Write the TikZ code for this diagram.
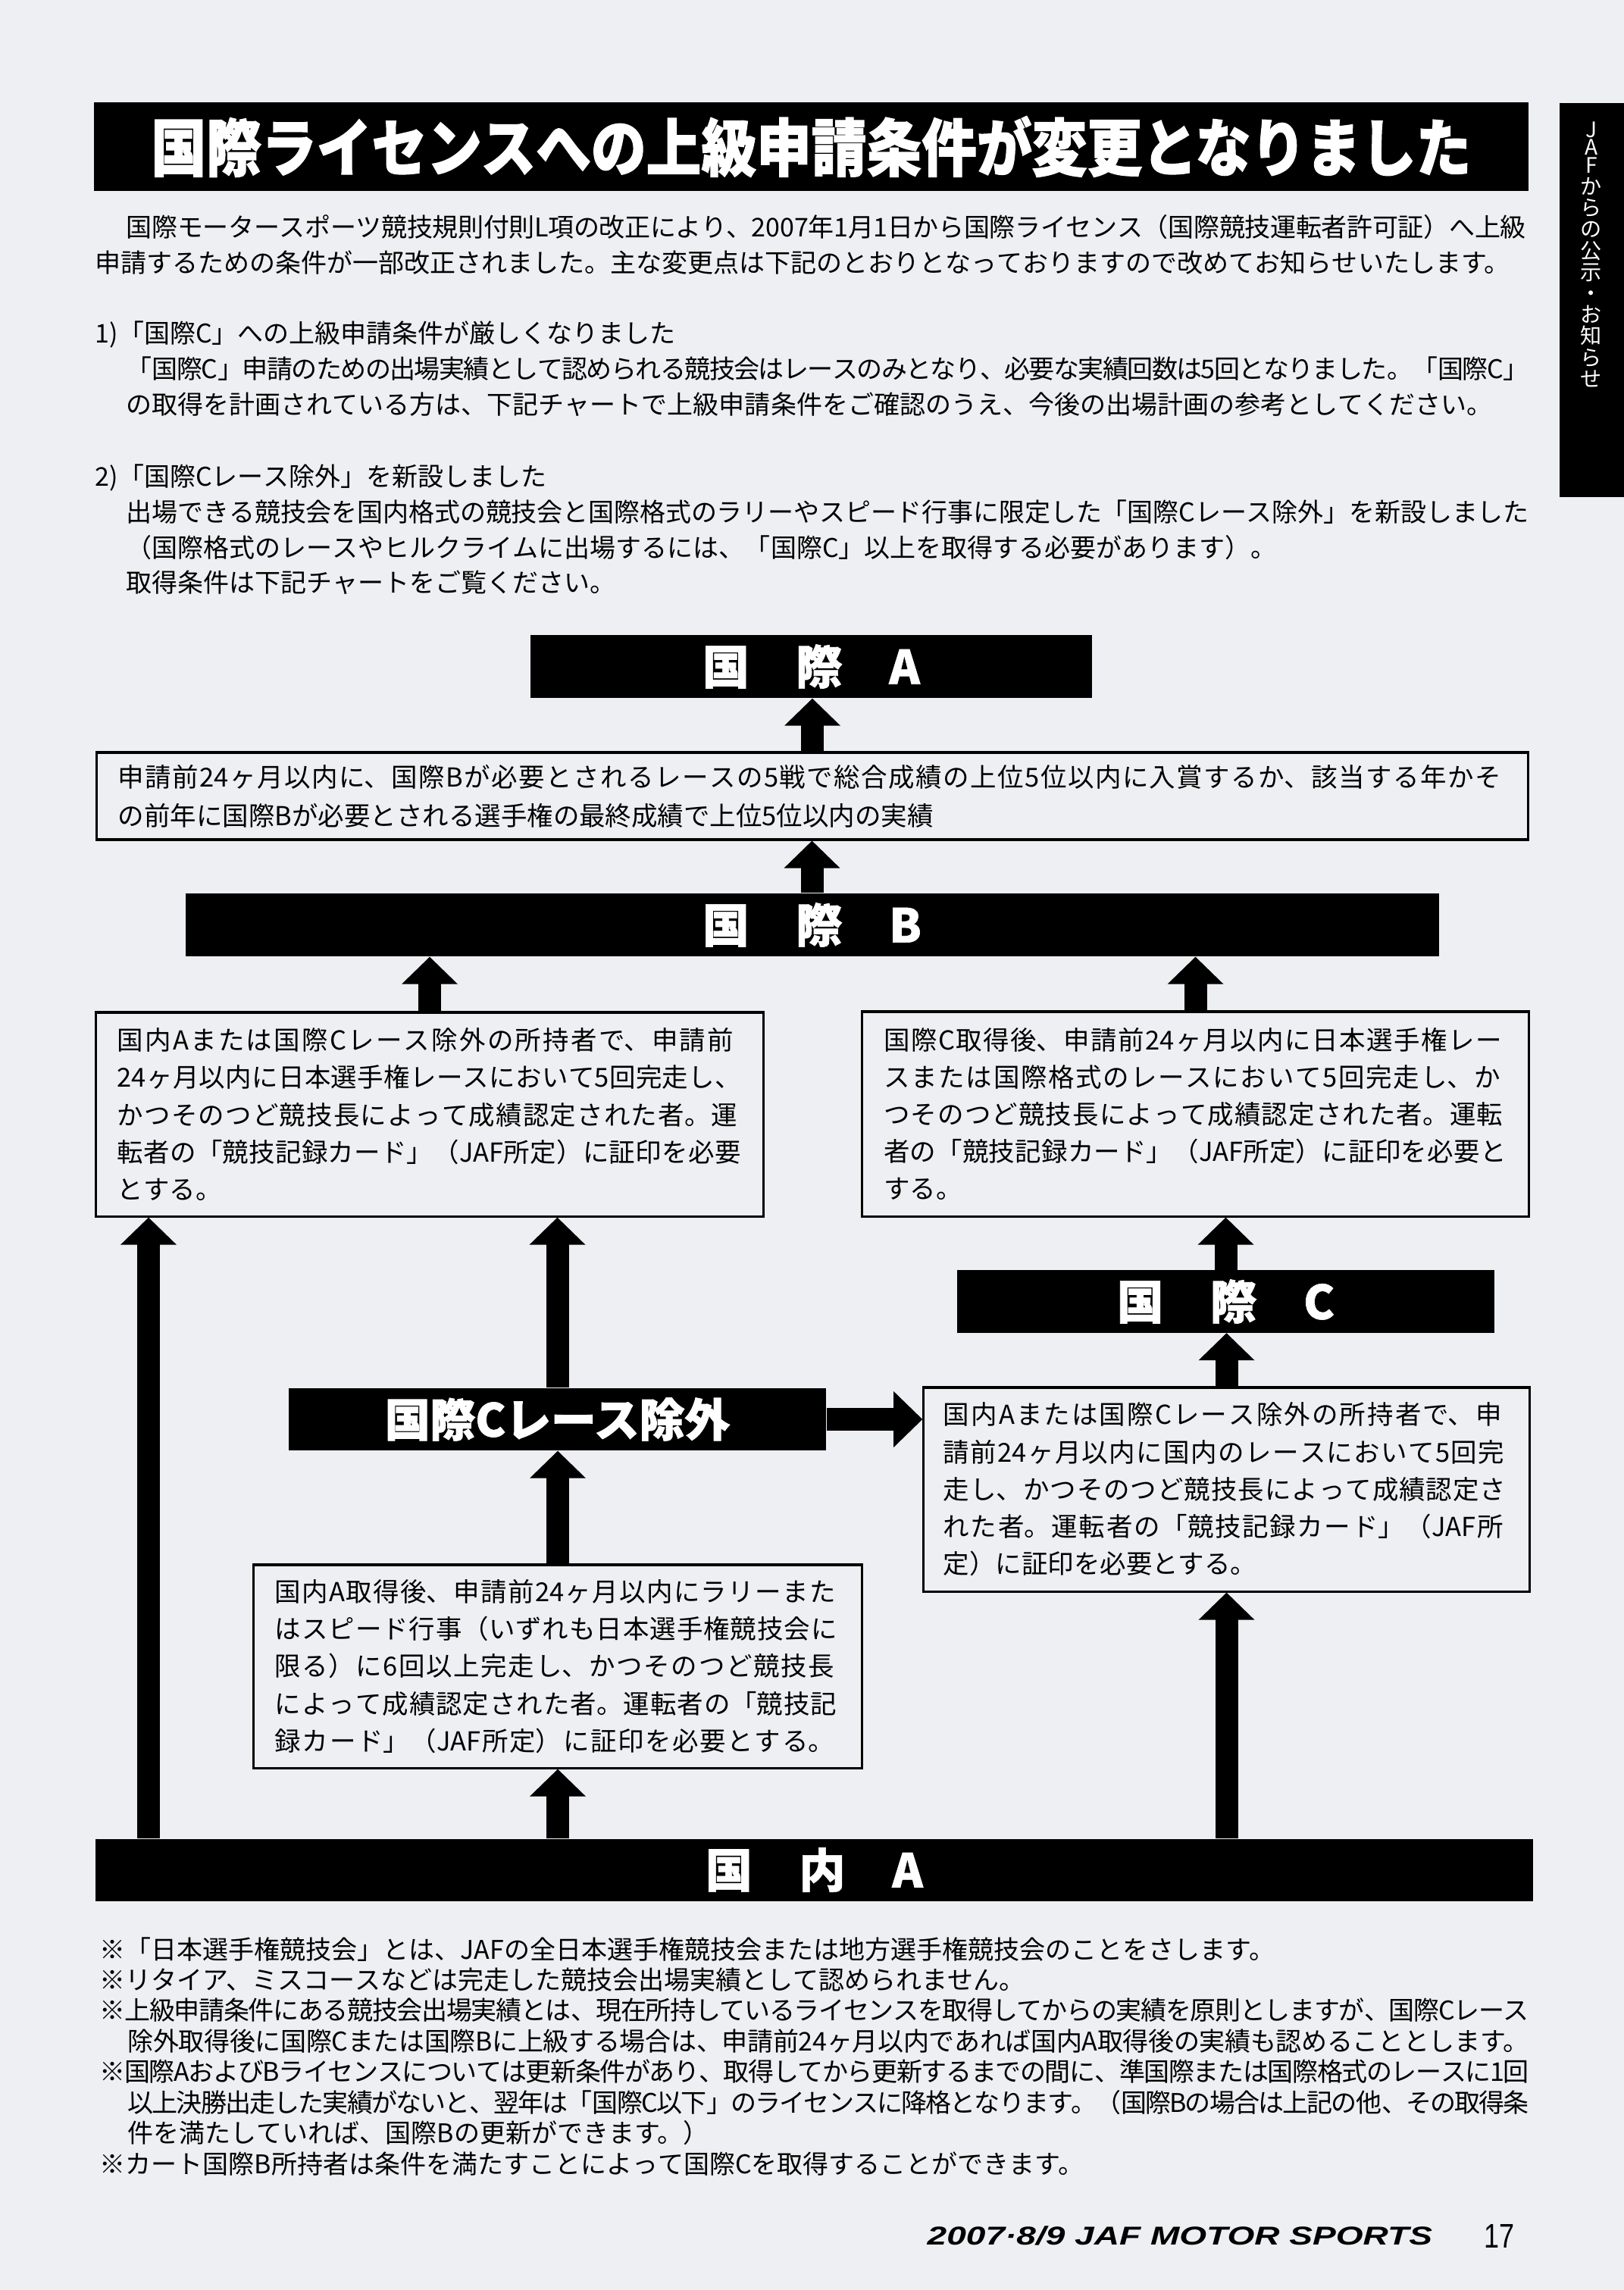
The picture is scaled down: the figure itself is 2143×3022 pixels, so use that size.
\documentclass[tikz,border=0pt]{standalone}
\usepackage{fontspec}
\setmainfont{Noto Sans CJK JP}
\newfontfamily\jp{Noto Sans CJK JP}
\newfontfamily\lib{Liberation Sans}
\usetikzlibrary{calc}
\XeTeXlinebreaklocale "ja"
\XeTeXlinebreakskip=0pt plus 4pt minus 1.2pt
\XeTeXlinebreakpenalty=10000
\definecolor{paper}{RGB}{238,239,242}
\newcommand\jl[1]{{\parfillskip=0pt\relax\leavevmode#1\par}}
\newcommand\jn[1]{{\parfillskip=0pt plus 1fil\relax\leavevmode#1\par}}
\newcommand\uarr[2]{\draw[shaft] #1 -- ($#2+(0,30)$);
  \fill ($#2+(-37,36)$) -- #2 -- ($#2+(37,36)$) -- cycle;}
\newcommand\rarr[2]{\draw[shaft] #1 -- ($#2+(-30,0)$);
  \fill ($#2+(-38,-37)$) -- #2 -- ($#2+(-38,37)$) -- cycle;}
\begin{document}
\begin{tikzpicture}[x=0.01cm, y=-0.01cm,
  bar/.style={fill=black, text=white, inner sep=0pt, font={\jp\bfseries\addfontfeature{FakeBold=1}\fontsize{17.5pt}{20pt}\selectfont}},
  cbox/.style={draw=black, line width=0.9pt, inner sep=0pt, font={\jp\fontsize{9.8pt}{14pt}\selectfont\parindent=0pt}},
  para/.style={anchor=base west, inner sep=0pt, font={\jp\fontsize{9.67pt}{13.23pt}\selectfont\parindent=0pt}},
  shaft/.style={line width=0.3cm}]
\useasboundingbox (0,0) rectangle (2143,3022);
\fill[paper] (0,0) rectangle (2143,3022);

% title
\node[fill=black, text=white, minimum width=18.91cm, minimum height=1.17cm, inner sep=0pt,
  font={\jp\bfseries\addfontfeature{FakeBold=1.5}\fontsize{23.5pt}{25pt}\selectfont}] (title) at (1070.5,193.5)
  {\scalebox{0.88}[1]{国際ライセンスへの上級申請条件が変更となりました}};

% side tab
\node[fill=black, minimum width=0.86cm, minimum height=5.2cm, inner sep=0pt, anchor=north west] (tab) at (2057,135) {};
\node[text=white, align=center, inner sep=0pt, anchor=north,
  font={\jp\fontsize{8pt}{8.02pt}\selectfont}] (tabtext) at (2100,160)
  {J\\[-1.35pt]A\\[-1.35pt]F\\か\\ら\\の\\公\\示\\・\\お\\知\\ら\\せ};

% intro
\node[para, text width=18.87cm] (intro) at (125,313) {%
\jl{\hspace*{11.7pt}国際モータースポーツ競技規則付則L項の改正により、2007年1月1日から国際ライセンス（国際競技運転者許可証）へ上級}
\jn{申請するための条件が一部改正されました。主な変更点は下記のとおりとなっておりますので改めてお知らせいたします。}};

\node[para, text width=18.91cm] (sec1) at (125,453) {%
\jn{1)「国際C」への上級申請条件が厳しくなりました}
\jl{\hspace*{11.7pt}「国際C」申請のための出場実績として認められる競技会はレースのみとなり、必要な実績回数は5回となりました。「国際C」}
\jn{\hspace*{11.7pt}の取得を計画されている方は、下記チャートで上級申請条件をご確認のうえ、今後の出場計画の参考としてください。}};

\node[para, text width=18.91cm] (sec2) at (125,642) {%
\jn{2)「国際Cレース除外」を新設しました}
\jl{\hspace*{11.7pt}出場できる競技会を国内格式の競技会と国際格式のラリーやスピード行事に限定した「国際Cレース除外」を新設しました}
\jn{\hspace*{11.7pt}（国際格式のレースやヒルクライムに出場するには、「国際C」以上を取得する必要があります）。}
\jn{\hspace*{11.7pt}取得条件は下記チャートをご覧ください。}};

% bars
\node[bar, minimum width=7.41cm, minimum height=0.83cm] (barA) at (1070.5,879.5) {国\hspace{1em}際\hspace{1em}A};
\node[bar, minimum width=16.53cm, minimum height=0.83cm] (barB) at (1071.5,1220.5) {国\hspace{1em}際\hspace{1em}B};
\node[bar, minimum width=7.09cm, minimum height=0.82cm] (barC) at (1617.5,1717.5) {国\hspace{1em}際\hspace{1em}C};
\node[bar, minimum width=7.09cm, minimum height=0.82cm, font={\jp\bfseries\addfontfeature{FakeBold=1.5}\fontsize{17pt}{20pt}\selectfont}] (xbar) at (735.5,1873) {国際Cレース除外};
\node[bar, minimum width=18.95cm, minimum height=0.82cm] (kA) at (1074.5,2467.5) {国\hspace{1em}内\hspace{1em}A};

% condition boxes
\node[cbox, minimum width=18.88cm, minimum height=1.15cm, text width=18.31cm,
  font={\jp\fontsize{9.8pt}{14.5pt}\selectfont\parindent=0pt}] (box1) at (1072,1050.5) {%
\jl{申請前24ヶ月以内に、国際Bが必要とされるレースの5戦で総合成績の上位5位以内に入賞するか、該当する年かそ}
\jn{の前年に国際Bが必要とされる選手権の最終成績で上位5位以内の実績}};

\node[cbox, minimum width=8.80cm, minimum height=2.69cm, text width=8.24cm] (lbox) at (567,1470.5) {%
\jl{国内Aまたは国際Cレース除外の所持者で、申請前}
\jl{24ヶ月以内に日本選手権レースにおいて5回完走し、}
\jl{かつそのつど競技長によって成績認定された者。運}
\jl{転者の「競技記録カード」（JAF所定）に証印を必要}
\jn{とする。}};

\node[cbox, minimum width=8.79cm, minimum height=2.70cm, text width=8.22cm] (rbox) at (1577.5,1470) {%
\jl{国際C取得後、申請前24ヶ月以内に日本選手権レー}
\jl{スまたは国際格式のレースにおいて5回完走し、か}
\jl{つそのつど競技長によって成績認定された者。運転}
\jl{者の「競技記録カード」（JAF所定）に証印を必要と}
\jn{する。}};

\node[cbox, minimum width=7.99cm, minimum height=2.69cm, text width=7.47cm] (creq) at (1618.5,1965.5) {%
\jl{国内Aまたは国際Cレース除外の所持者で、申}
\jl{請前24ヶ月以内に国内のレースにおいて5回完}
\jl{走し、かつそのつど競技長によって成績認定さ}
\jl{れた者。運転者の「競技記録カード」（JAF所}
\jn{定）に証印を必要とする。}};

\node[cbox, minimum width=8.02cm, minimum height=2.68cm, text width=7.46cm] (xreq) at (736,2199) {%
\jl{国内A取得後、申請前24ヶ月以内にラリーまた}
\jl{はスピード行事（いずれも日本選手権競技会に}
\jl{限る）に6回以上完走し、かつそのつど競技長}
\jl{によって成績認定された者。運転者の「競技記}
\jl{録カード」（JAF所定）に証印を必要とする。}};

% connectors
\coordinate (lx) at (196,0);
\uarr{(box1.north)}{(box1.north |- barA.south)}
\uarr{(barB.north)}{(barB.north |- box1.south)}
\uarr{(lbox.north)}{(lbox.north |- barB.south)}
\uarr{(rbox.north)}{(rbox.north |- barB.south)}
\uarr{(barC.north)}{(barC.north |- rbox.south)}
\uarr{(creq.north)}{(creq.north |- barC.south)}
\uarr{(kA.north -| creq.south)}{(creq.south)}
\uarr{(xbar.north)}{(xbar.north |- lbox.south)}
\uarr{(xreq.north)}{(xreq.north |- xbar.south)}
\uarr{(kA.north -| xreq.south)}{(xreq.south)}
\uarr{(kA.north -| lx)}{(lbox.south -| lx)}
\rarr{(xbar.east)}{(xbar.east -| creq.west)}

% footnotes
\node[para, text width=18.85cm, font={\jp\fontsize{9.67pt}{11.5pt}\selectfont\parindent=0pt}] (notes) at (131,2585) {%
\jn{※「日本選手権競技会」とは、JAFの全日本選手権競技会または地方選手権競技会のことをさします。}
\jn{※リタイア、ミスコースなどは完走した競技会出場実績として認められません。}
\jl{※上級申請条件にある競技会出場実績とは、現在所持しているライセンスを取得してからの実績を原則としますが、国際Cレース}
\jn{\hspace*{10.5pt}除外取得後に国際Cまたは国際Bに上級する場合は、申請前24ヶ月以内であれば国内A取得後の実績も認めることとします。}
\jl{※国際AおよびBライセンスについては更新条件があり、取得してから更新するまでの間に、準国際または国際格式のレースに1回}
\jl{\hspace*{10.5pt}以上決勝出走した実績がないと、翌年は「国際C以下」のライセンスに降格となります。（国際Bの場合は上記の他、その取得条}
\jn{\hspace*{10.5pt}件を満たしていれば、国際Bの更新ができます。）}
\jn{※カート国際B所持者は条件を満たすことによって国際Cを取得することができます。}};

% footer
\node[anchor=base west, inner sep=0pt, font={\lib\bfseries\itshape\fontsize{9.7pt}{10pt}\selectfont}] (foot) at (1223,2962)
  {\scalebox{1.35}[1]{2007·8/9 JAF MOTOR SPORTS}};
\node[anchor=base west, inner sep=0pt, font={\lib\fontsize{12.8pt}{13pt}\selectfont}] (pg) at (1958,2966)
  {\scalebox{0.8}[1]{17}};
\end{tikzpicture}
\end{document}
